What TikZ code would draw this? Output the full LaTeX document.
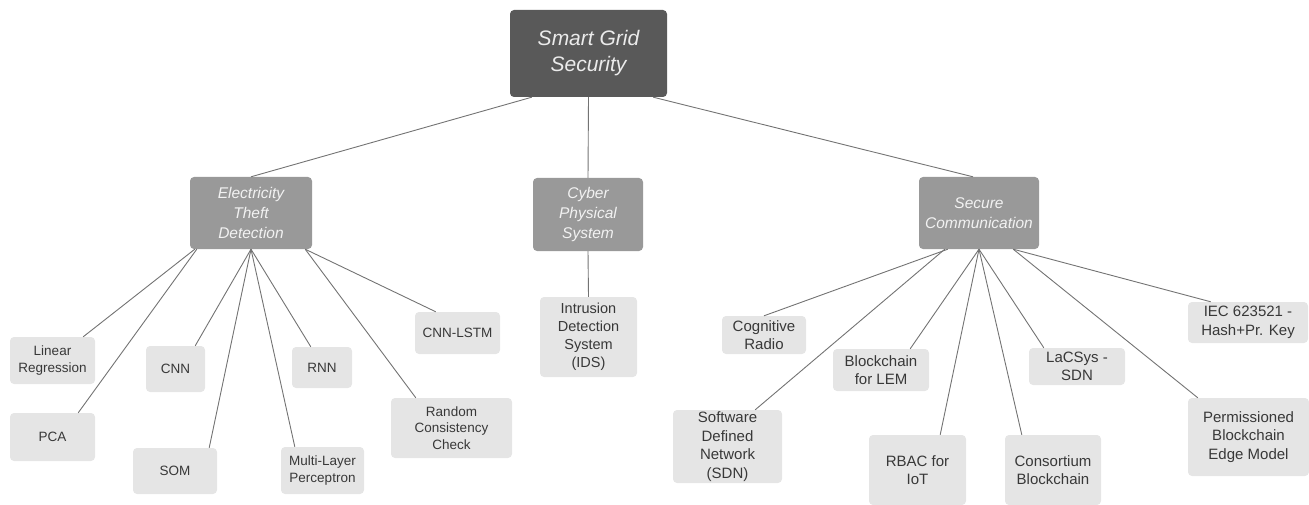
\documentclass[tikz,border=0pt]{standalone}
\usepackage{fontspec}
\setmainfont{Liberation Sans}
\begin{document}
\begin{tikzpicture}[x=1pt,y=-1pt,
  box/.style={rectangle,rounded corners=4pt,inner sep=0pt,align=center},
  rootbox/.style={box,fill=black!65,text=black!8,
    font=\fontsize{21}{26}\selectfont\itshape},
  midbox/.style={box,fill=black!40,text=black!5,
    font=\fontsize{15.5}{20}\selectfont\itshape},
  leaf/.style={box,fill=black!10,text=black!78,
    font=\fontsize{13.5}{16.5}\selectfont},
  leafmid/.style={leaf,font=\fontsize{14.5}{18}\selectfont},
  leafwide/.style={leaf,font=\fontsize{15}{18.5}\selectfont},
  link/.style={draw=black!55,line width=0.9pt}]
\useasboundingbox (0,0) rectangle (1309,505);

% top level
\node[rootbox,minimum width=157,minimum height=87] (root) at (588.5,53.5) {Smart Grid\\Security};

% categories
\node[midbox,minimum width=122,minimum height=72] (etd) at (251,213) {Electricity\\Theft\\Detection};
\node[midbox,minimum width=110,minimum height=73] (cps) at (588,214.5) {Cyber\\Physical\\System};
\node[midbox,minimum width=120,minimum height=72] (sc) at (979,213) {Secure\\Communication};

% electricity theft detection methods
\node[leaf,minimum width=85,minimum height=47] (lr) at (52.5,360.5) {Linear\\Regression};
\node[leaf,minimum width=85,minimum height=48] (pca) at (52.5,437) {PCA};
\node[leaf,minimum width=59,minimum height=46] (cnn) at (175.5,369) {CNN};
\node[leaf,minimum width=84,minimum height=46] (som) at (175,471) {SOM};
\node[leaf,minimum width=60,minimum height=41] (rnn) at (322,367.5) {RNN};
\node[leaf,minimum width=83,minimum height=47] (mlp) at (322.5,470.5) {Multi-Layer\\Perceptron};
\node[leaf,minimum width=85,minimum height=42] (lstm) at (457.5,333) {CNN-LSTM};
\node[leaf,minimum width=121,minimum height=60] (rcc) at (451.5,428) {Random\\Consistency\\Check};

% cyber physical system
\node[leafmid,minimum width=97,minimum height=80] (ids) at (588.5,337) {Intrusion\\Detection\\System\\(IDS)};

% secure communication methods
\node[leafwide,minimum width=84,minimum height=38] (cr) at (764,335) {Cognitive\\Radio};
\node[leafwide,minimum width=109,minimum height=73] (sdn) at (727.5,446.5) {Software\\Defined\\Network\\(SDN)};
\node[leafwide,minimum width=96,minimum height=42] (lem) at (881,370) {Blockchain\\for LEM};
\node[leafwide,minimum width=97,minimum height=70] (rbac) at (917.5,470) {RBAC for\\IoT};
\node[leafwide,minimum width=96,minimum height=70] (cons) at (1053,470) {Consortium\\Blockchain};
\node[leafwide,minimum width=96,minimum height=37] (lacs) at (1077,366.5) {LaCSys -\\SDN};
\node[leafwide,minimum width=120,minimum height=41] (iec) at (1248,322.5) {IEC 623521 -\\Hash+Pr. Key};
\node[leafwide,minimum width=121,minimum height=78] (perm) at (1248.5,437) {Permissioned\\Blockchain\\Edge Model};

% connectors
\begin{scope}[link]
\draw ([xshift=22]root.south west) -- (etd.north);
\draw (root.south) -- (cps.north);
\draw ([xshift=-14]root.south east) -- ([xshift=-6]sc.north);
\draw (cps.south) -- (ids.north);

\draw ([xshift=5]etd.south west) -- ([xshift=-12]lr.north east);
\draw ([xshift=7]etd.south west) -- ([xshift=-17]pca.north east);
\draw (etd.south) -- ([xshift=-10]cnn.north east);
\draw (etd.south) -- ([xshift=-8]som.north east);
\draw (etd.south) -- ([xshift=14]mlp.north west);
\draw (etd.south) -- ([xshift=19]rnn.north west);
\draw ([xshift=-7]etd.south east) -- ([xshift=25]rcc.north west);
\draw ([xshift=-7]etd.south east) -- ([xshift=21]lstm.north west);

\draw ([xshift=29]sc.south west) -- (cr.north);
\draw ([xshift=26]sc.south west) -- ([xshift=-27]sdn.north east);
\draw (sc.south) -- ([xshift=-19]lem.north east);
\draw (sc.south) -- ([xshift=-26]rbac.north east);
\draw (sc.south) -- ([xshift=17]cons.north west);
\draw (sc.south) -- ([xshift=15]lacs.north west);
\draw ([xshift=-26]sc.south east) -- ([xshift=10]perm.north west);
\draw ([xshift=-26]sc.south east) -- ([xshift=23]iec.north west);
\end{scope}
\end{tikzpicture}
\end{document}
